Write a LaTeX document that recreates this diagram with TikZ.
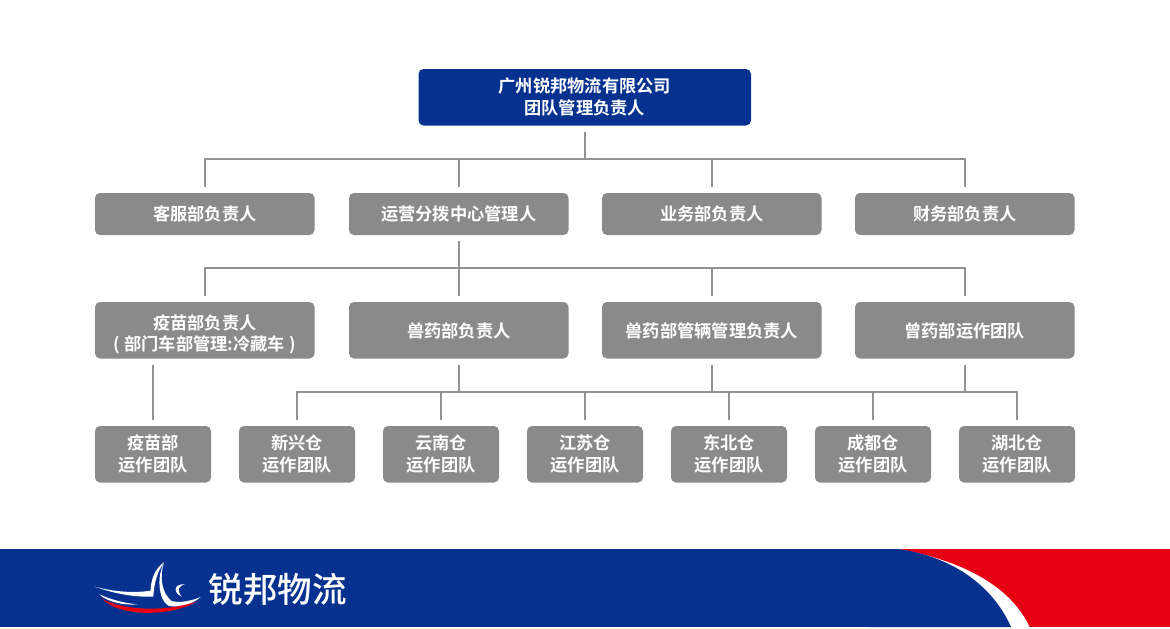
\documentclass[tikz,border=0pt]{standalone}
\usepackage{fontspec}
\setmainfont{Noto Sans CJK SC}[BoldFont=* Bold]
\newfontfamily\logofont{Noto Sans CJK SC Medium}
\definecolor{navy}{HTML}{06318F}
\definecolor{boxgray}{HTML}{8A8A8A}
\definecolor{linegray}{HTML}{929292}
\definecolor{brandred}{HTML}{E60012}
\newcommand{\droptext}[2]{\raisebox{-#1}[0.8em][0.2em]{#2}}
\tikzset{
  basebox/.style={rounded corners=5pt,inner sep=0pt,text=white,align=center,font=\fontsize{17.25}{22}\selectfont\bfseries},
  topbox/.style={basebox,fill=navy,minimum width=332.5pt,minimum height=56.5pt},
  widebox/.style={basebox,fill=boxgray,minimum width=219.5pt,minimum height=42pt},
  tallbox/.style={basebox,fill=boxgray,minimum width=219.5pt,minimum height=56.5pt},
  smallbox/.style={basebox,fill=boxgray,minimum width=116pt,minimum height=56.5pt},
  conn/.style={draw=linegray,line width=1.5pt},
  fromnode/.style={shorten <=6pt},
  tonode/.style={shorten >=6pt}
}
\begin{document}
\begin{tikzpicture}[x=1pt,y=-1pt]
\useasboundingbox (0,0) rectangle (1170,629);
\fill[white] (0,0) rectangle (1170,629);
% band
\fill[navy] (0,549) rectangle (1170,627);
\fill[brandred] (900,549) rectangle (1170,627);
\fill[white] (898,549) .. controls (960,560) and (1010,585) .. (1029.5,627) -- (1005,627) -- (900,560) -- cycle;
\fill[navy] (870,549) -- (898,549) .. controls (950,556) and (992,584) .. (1011,627) -- (870,627) -- cycle;
% logo
\begin{scope}[shift={(60,540)},x=0.3333pt,y=-0.3333pt]
\fill[white] (105,140) .. controls (160,155) and (220,160) .. (272,152) .. controls (272,120) and (285,85) .. (312,67) .. controls (292,95) and (282,130) .. (280,170) .. controls (220,172) and (160,160) .. (105,140) -- cycle;
\fill[white] (312,67) .. controls (298,110) and (305,160) .. (335,183) .. controls (360,190) and (395,182) .. (422,171) .. controls (395,195) and (355,205) .. (325,197) .. controls (295,180) and (290,110) .. (312,67) -- cycle;
\fill[white] (375,133) .. controls (345,130) and (335,155) .. (365,170) .. controls (350,150) and (355,138) .. (375,133) -- cycle;
\fill[white] (118,163) .. controls (150,178) and (195,190) .. (232,193) .. controls (190,197) and (140,185) .. (118,163) -- cycle;
\fill[brandred] (125,175) .. controls (170,205) and (300,222) .. (412,184) .. controls (340,228) and (180,235) .. (125,175) -- cycle;
\end{scope}
\node[text=white,inner sep=0pt,font=\fontsize{34.5}{36}\selectfont\logofont] (logotext) at (277.5,589) {锐邦物流};
% top
\node[topbox] (top) at (584.75,97.25) {广州锐邦物流有限公司\\团队管理负责人};
% level 2
\node[widebox] (a1) at (204.75,214) {客服部负责人};
\node[widebox] (a2) at (458.75,214) {运营分拨中心管理人};
\node[widebox] (a3) at (711.75,214) {业务部负责人};
\node[widebox] (a4) at (964.75,214) {财务部负责人};
% level 3
\node[tallbox] (b1) at (204.75,330.25) {\droptext{4.5pt}{疫苗部负责人}\\[-1pt]\droptext{4.5pt}{\hspace{2pt}( 部门车部管理:冷藏车 )\hspace{2pt}}};
\node[tallbox] (b2) at (458.75,330.25) {\droptext{2pt}{兽药部负责人}};
\node[tallbox] (b3) at (711.75,330.25) {\droptext{2pt}{兽药部管辆管理负责人}};
\node[tallbox] (b4) at (964.75,330.25) {\droptext{2pt}{曾药部运作团队}};
% level 4
\node[smallbox] (c0) at (153,454.25) {疫苗部\\运作团队};
\node[smallbox] (c1) at (297,454.25) {新兴仓\\运作团队};
\node[smallbox] (c2) at (441,454.25) {云南仓\\运作团队};
\node[smallbox] (c3) at (585,454.25) {江苏仓\\运作团队};
\node[smallbox] (c4) at (729,454.25) {东北仓\\运作团队};
\node[smallbox] (c5) at (873,454.25) {成都仓\\运作团队};
\node[smallbox] (c6) at (1017,454.25) {湖北仓\\运作团队};
% buses
\coordinate (bus1) at (584.75,159);
\coordinate (bus2) at (458.75,268);
\coordinate (bus3) at (711.75,392);
\draw[conn,fromnode] (top.south) -- (bus1);
\foreach \n in {a1,a2,a3,a4}{\draw[conn,tonode] (bus1) -| (\n.north);}
\draw[conn,fromnode] (a2.south) -- (bus2);
\foreach \n in {b1,b2,b3,b4}{\draw[conn,tonode] (bus2) -| (\n.north);}
\draw[conn,fromnode,tonode] (b1.south -| c0.north) -- (c0.north);
\foreach \n in {b2,b3,b4}{\draw[conn,fromnode] (\n.south) |- (bus3);}
\foreach \n in {c1,c2,c3,c4,c5,c6}{\draw[conn,tonode] (bus3) -| (\n.north);}
\end{tikzpicture}
\end{document}
